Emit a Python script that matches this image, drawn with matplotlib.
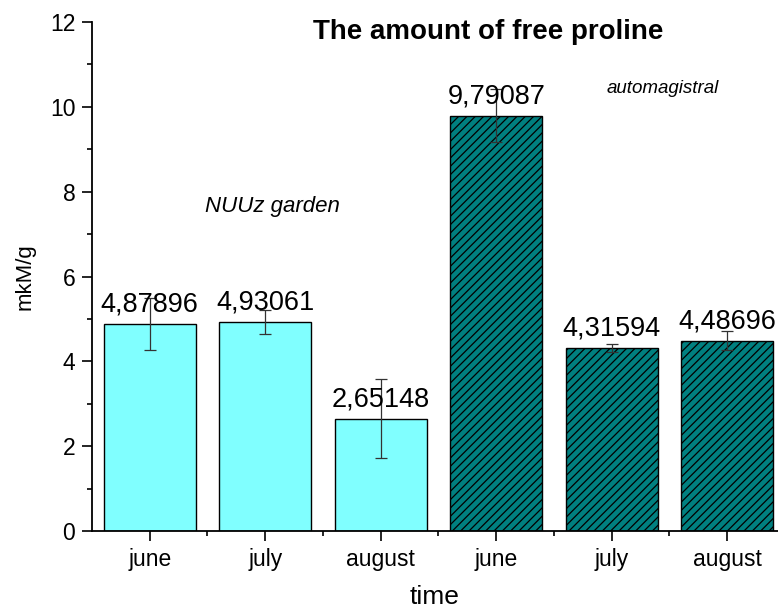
import matplotlib
matplotlib.use("Agg")
import matplotlib.pyplot as plt
from matplotlib.ticker import MultipleLocator, FixedLocator

plt.rcParams['font.family'] = ['Liberation Sans', 'DejaVu Sans']
plt.rcParams['hatch.linewidth'] = 0.9

categories = ["june", "july", "august", "june", "july", "august"]
values = [4.87896, 4.93061, 2.65148, 9.79087, 4.31594, 4.48696]
errors = [0.61, 0.29, 0.93, 0.62, 0.09, 0.22]
value_labels = ["4,87896", "4,93061", "2,65148", "9,79087", "4,31594", "4,48696"]
groups = ["NUUz garden", "NUUz garden", "NUUz garden",
          "automagistral", "automagistral", "automagistral"]

fig = plt.figure(figsize=(7.78, 6.13), dpi=100)
ax = fig.add_axes([92/778, 82/613, 686/778, (531-22)/613])

x = list(range(1, len(values) + 1))
colors = ['#80ffff' if g == "NUUz garden" else '#008080' for g in groups]
hatches = ['' if g == "NUUz garden" else '////' for g in groups]

bars = ax.bar(x, values, width=0.8, color=colors, edgecolor='black', linewidth=1.0, zorder=2)
for b, h in zip(bars, hatches):
    b.set_hatch(h)

ax.errorbar(x, values, yerr=errors, fmt='none', ecolor='#333333', elinewidth=0.9,
            capsize=4, capthick=0.9, zorder=3)

for xi, v, lab in zip(x, values, value_labels):
    ax.text(xi, v + 0.29, lab, ha='center', va='baseline', fontsize=19.5, zorder=4)

ax.set_xlim(0.5, 6.44)
ax.set_ylim(0, 12)
ax.set_xticks(x)
ax.set_xticklabels(categories, fontsize=16.5)
ax.xaxis.set_minor_locator(FixedLocator([1.5, 2.5, 3.5, 4.5, 5.5]))
ax.yaxis.set_major_locator(MultipleLocator(2))
ax.yaxis.set_minor_locator(MultipleLocator(1))
ax.tick_params(axis='y', labelsize=16.5)
ax.tick_params(which='major', direction='out', length=7, width=1.2, pad=5)
ax.tick_params(which='minor', direction='out', length=3.5, width=1.2)

for s in ['top', 'right']:
    ax.spines[s].set_visible(False)
for s in ['left', 'bottom']:
    ax.spines[s].set_linewidth(1.3)

ax.set_xlabel("time", fontsize=19, labelpad=10)
ax.set_ylabel("mkM/g", fontsize=16, labelpad=10)

ax.text(3.93, 11.77, "The amount of free proline", ha='center', va='center',
        fontsize=20, fontweight='bold')
ax.text(2.06, 7.65, "NUUz garden", ha='center', va='center', fontsize=16, style='italic')
ax.text(5.44, 10.43, "automagistral", ha='center', va='center', fontsize=13.5, style='italic')

fig.savefig("out.png", dpi=100)
